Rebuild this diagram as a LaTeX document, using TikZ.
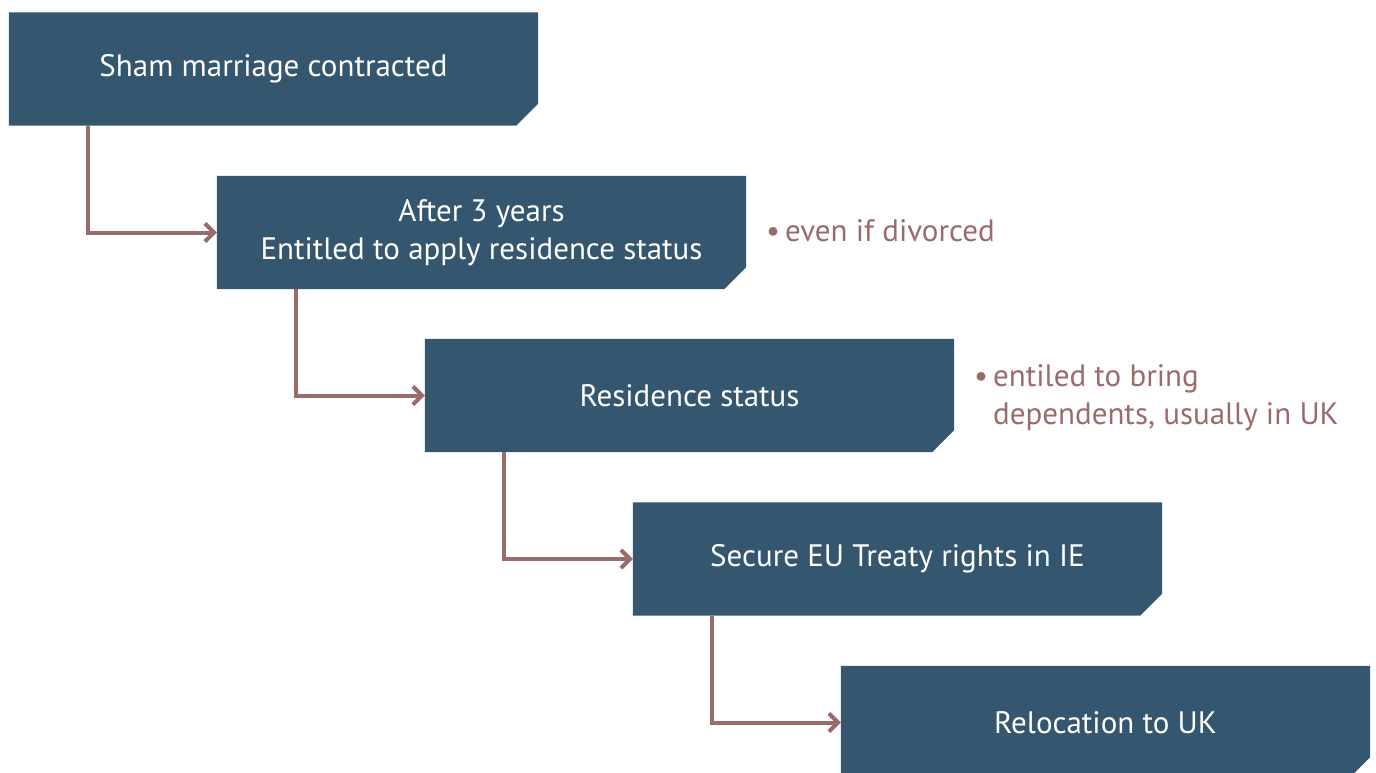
\documentclass[tikz,border=0pt]{standalone}
\usepackage{fontspec}
\setmainfont{PT Sans}
\usetikzlibrary{arrows.meta,backgrounds}
\definecolor{boxc}{HTML}{34566E}
\definecolor{linkc}{HTML}{9A6B6B}
\tikzset{
  box/.style={minimum width=529pt,minimum height=113pt,inner sep=0pt,text=white,
    font=\fontsize{31}{38}\selectfont,align=center},
  note/.style={text=linkc,font=\fontsize{31}{38}\selectfont,align=left,inner sep=0pt,anchor=base west},
  link/.style={draw=linkc,line width=4pt,-{Straight Barb[length=9pt,width=18pt,line width=4pt]}},
}
\newcommand{\cutfill}[1]{\fill[boxc] (#1.north west) -- (#1.north east) -- ([yshift=22pt]#1.south east) -- ([xshift=-22pt]#1.south east) -- (#1.south west) -- cycle;}
\begin{document}
\begin{tikzpicture}[x=1pt,y=-1pt]
\useasboundingbox (0,0) rectangle (1376,773);
\node[box] (b1) at (273.5,69) {\raisebox{3pt}{Sham marriage contracted}};
\node[box] (b2) at (481.5,232.5) {After 3 years\\Entitled to apply residence status};
\node[box] (b3) at (689.5,395.5) {Residence status};
\node[box] (b4) at (897.5,559) {Secure EU Treaty rights in IE};
\node[box] (b5) at (1105.5,722.5) {Relocation to UK};
\begin{scope}[on background layer]
\cutfill{b1}\cutfill{b2}\cutfill{b3}\cutfill{b4}\cutfill{b5}
\end{scope}
\node[note] (n1) at (785,241) {\llap{•\hspace{5pt}}even if divorced};
\node[note] (n2) at (993,424) {\llap{•\hspace{5pt}}entiled to bring\\dependents, usually in UK};
\draw[link] ([xshift=79pt]b1.south west) |- (b2.west);
\draw[link] ([xshift=79pt]b2.south west) |- (b3.west);
\draw[link] ([xshift=79pt]b3.south west) |- (b4.west);
\draw[link] ([xshift=79pt]b4.south west) |- (b5.west);
\end{tikzpicture}
\end{document}
